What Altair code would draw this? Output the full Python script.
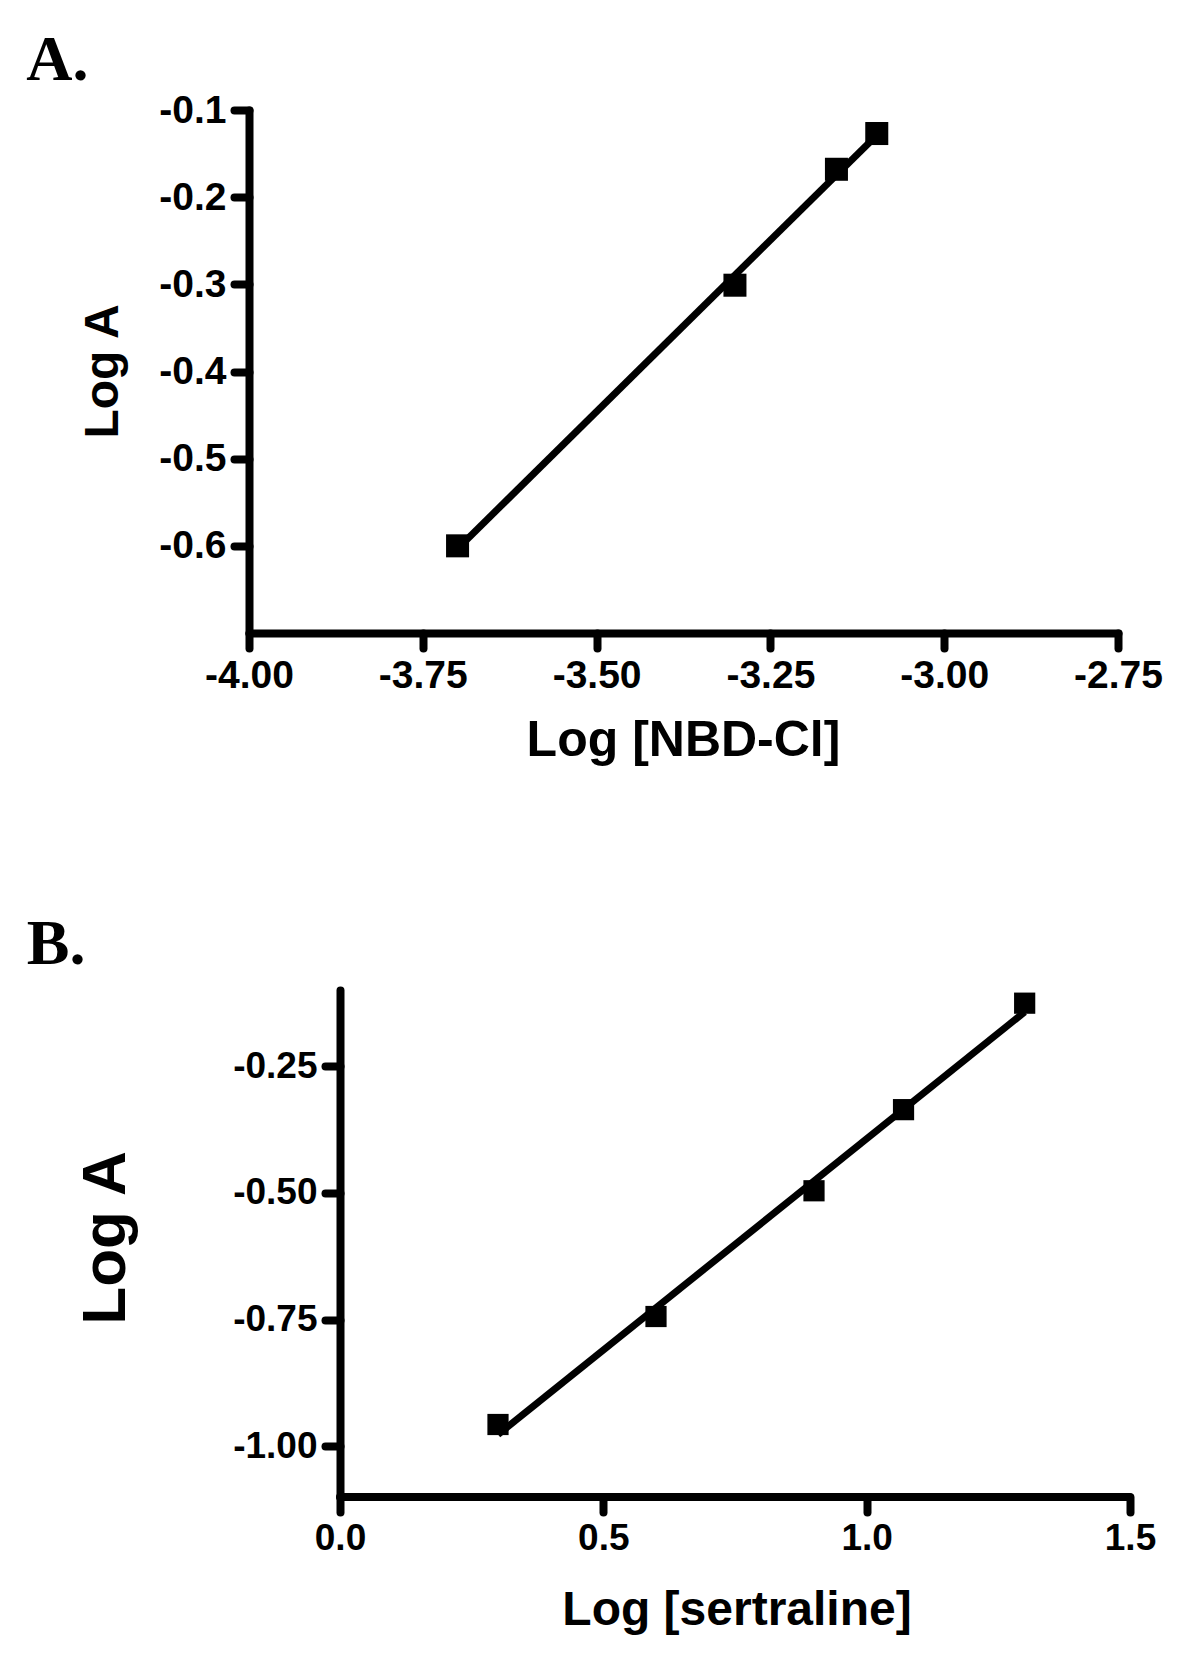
import altair as alt
import pandas as pd

# ---------------- data ----------------
# Panel A: Log [NBD-Cl] vs Log A
a_x = [-3.700, -3.301, -3.155, -3.097]
a_y = [-0.600, -0.301, -0.168, -0.127]
a_xticks = [-4.00, -3.75, -3.50, -3.25, -3.00, -2.75]
a_yticks = [-0.1, -0.2, -0.3, -0.4, -0.5, -0.6]
a_xdomain = [-4.0, -2.75]
a_ydomain = [-0.7, -0.1]

# Panel B: Log [sertraline] vs Log A
b_x = [0.30, 0.60, 0.90, 1.07, 1.30]
b_y = [-0.957, -0.744, -0.496, -0.336, -0.126]
b_xticks = [0.0, 0.5, 1.0, 1.5]
b_yticks = [-0.25, -0.50, -0.75, -1.00]
b_xaxis_span = [0.0, 1.5]
b_ydomain = [-1.1, -0.1]

panel_labels = ["A.", "B."]
y_titles = ["Log A", "Log A"]
x_titles = ["Log [NBD-Cl]", "Log [sertraline]"]

SANS = "Liberation Sans"
SERIF = "Liberation Serif"
LW = 8  # axis / tick stroke width


def axis(values, fmt, size, domain=True, offset=0):
    return alt.Axis(
        values=values,
        labelExpr=f"(datum.value < 0 ? '-' : '') + format(abs(datum.value), '{fmt}')",
        title=None,
        grid=False,
        domain=domain,
        offset=offset,
        domainWidth=LW,
        domainColor="black",
        domainCap="round",
        tickWidth=LW,
        tickColor="black",
        tickCap="round",
        tickSize=15,
        labelFont=SANS,
        labelFontWeight="bold",
        labelFontSize=size,
        labelColor="black",
        labelPadding=8,
        labelOverlap=False,
        labelFlush=False,
    )


def text_layer(txt, x, y, size, font, angle=0, align="left"):
    return alt.Chart(pd.DataFrame({"t": [txt]})).mark_text(
        font=font,
        fontSize=size,
        fontWeight="bold",
        align=align,
        baseline="alphabetic",
        angle=angle,
        color="black",
    ).encode(text="t:N", x=alt.value(x), y=alt.value(y))


# ---------------- panel A ----------------
wA, hA = 869, 523
dfA = pd.DataFrame({"x": a_x, "y": a_y})
XA = alt.X("x:Q", scale=alt.Scale(domain=a_xdomain, nice=False, zero=False),
           axis=axis(a_xticks, ".2f", 39))
YA = alt.Y("y:Q", scale=alt.Scale(domain=a_ydomain, nice=False, zero=False),
           axis=axis(a_yticks, ".1f", 39))
baseA = alt.Chart(dfA)
panelA = alt.layer(
    baseA.transform_regression("x", "y").mark_line(color="black", strokeWidth=7).encode(x=XA, y=YA),
    baseA.mark_square(size=530, color="black", opacity=1).encode(x=XA, y=YA),
    text_layer(panel_labels[0], -222.7, -30, 64, SERIF),
    text_layer(y_titles[0], -131, hA / 2, 48, SANS, angle=270, align="center"),
    text_layer(x_titles[0], wA / 2, 646, 50, SANS, align="center"),
).properties(width=wA, height=hA)

# ---------------- panel B ----------------
# plot area starts 91px left of the x=0 axis so that the y axis sits where the reference has it
pxB = 526.7            # pixels per unit on the x scale
shiftB = 91            # px between plot-area left edge and the x=0 axis
wB, hB = 790 + shiftB, 507
b_xdomain = [-shiftB / pxB, 1.5]
dfB = pd.DataFrame({"x": b_x, "y": b_y})
XB = alt.X("x:Q", scale=alt.Scale(domain=b_xdomain, nice=False, zero=False),
           axis=axis(b_xticks, ".1f", 37, domain=False))
YB = alt.Y("y:Q", scale=alt.Scale(domain=b_ydomain, nice=False, zero=False),
           axis=axis(b_yticks, ".2f", 37, offset=-shiftB))
baseB = alt.Chart(dfB)
xaxis_line = alt.Chart(
    pd.DataFrame({"x": [b_xaxis_span[0]], "x2": [b_xaxis_span[1]], "y": [b_ydomain[0]]})
).mark_rule(color="black", strokeWidth=LW, strokeCap="round").encode(x=XB, x2="x2:Q", y=YB)
panelB = alt.layer(
    baseB.transform_regression("x", "y").mark_line(color="black", strokeWidth=7).encode(x=XB, y=YB),
    baseB.mark_square(size=450, color="black", opacity=1).encode(x=XB, y=YB),
    xaxis_line,
    text_layer(panel_labels[1], -222.2, -26, 64, SERIF),
    text_layer(y_titles[1], -124, 248, 62, SANS, angle=270, align="center"),
    text_layer(x_titles[1], shiftB + 397, 635, 48, SANS, align="center"),
).properties(width=wB, height=hB)

chart = alt.concat(panelA, panelB, columns=1, spacing=147).properties(
    padding={"left": 18, "top": 21, "right": 5, "bottom": 5}
).configure_view(stroke=None)

chart.save("out.html", embed_options={"renderer": "svg", "actions": False})
